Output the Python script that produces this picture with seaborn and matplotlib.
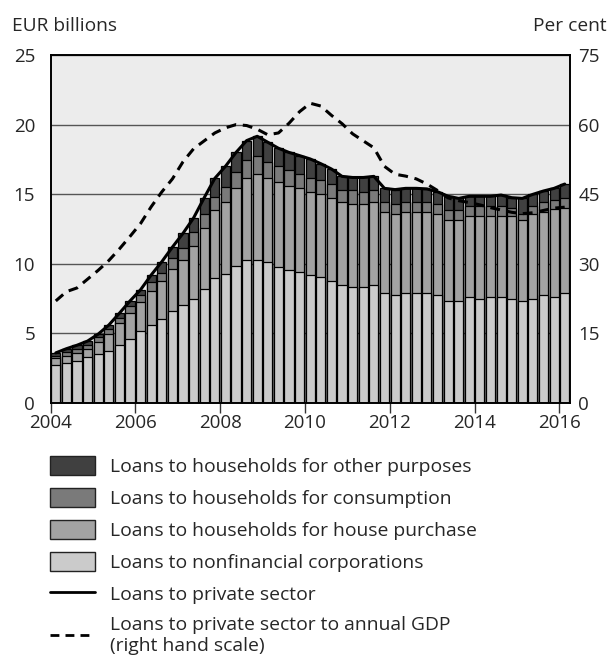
import numpy as np
import pandas as pd
import matplotlib
matplotlib.use("Agg")
import matplotlib.pyplot as plt
import seaborn as sns
from matplotlib.patches import Patch
from matplotlib.lines import Line2D

# ---------------- data (EUR billions, quarterly 2004Q1-2016Q1) ----------------
quarters = [f"{y}Q{q}" for y in range(2004, 2017) for q in range(1, 5)][:49]

corporations = [2.75, 2.9, 3.0, 3.3, 3.5, 3.7, 4.15, 4.6, 5.15, 5.6, 6.03, 6.61, 7.04,
                7.45, 8.17, 9.0, 9.29, 9.87, 10.3, 10.3, 10.15, 9.75, 9.58, 9.43, 9.17,
                9.03, 8.74, 8.45, 8.31, 8.31, 8.45, 7.88, 7.74, 7.9, 7.9, 7.9, 7.74, 7.3,
                7.3, 7.59, 7.45, 7.59, 7.59, 7.45, 7.3, 7.45, 7.74, 7.59, 7.88]
house_purchase = [0.45, 0.5, 0.6, 0.6, 0.9, 1.25, 1.6, 1.84, 2.13, 2.42, 2.71, 2.99, 3.26,
                  3.85, 4.38, 4.87, 5.15, 5.55, 5.84, 6.15, 5.99, 6.1, 5.98, 5.99, 5.96,
                  5.96, 5.96, 5.97, 5.96, 5.96, 5.97, 5.82, 5.81, 5.8, 5.8, 5.8, 5.81, 5.87,
                  5.87, 5.82, 5.96, 5.82, 5.82, 5.96, 5.82, 6.1, 5.96, 6.35, 6.1]
consumption = [0.2, 0.25, 0.3, 0.3, 0.35, 0.4, 0.35, 0.5, 0.48, 0.65, 0.6, 0.79, 0.8,
               0.96, 1.0, 0.95, 1.1, 1.15, 1.29, 1.27, 1.15, 1.15, 1.15, 1.01, 1.01, 1.01,
               1.01, 0.86, 1.01, 0.86, 0.86, 0.72, 0.72, 0.72, 0.72, 0.72, 0.72, 0.72,
               0.72, 0.72, 0.72, 0.72, 0.72, 0.57, 0.43, 0.58, 0.72, 0.62, 0.72]
other_purposes = [0.2, 0.25, 0.25, 0.25, 0.2, 0.25, 0.35, 0.39, 0.38, 0.53, 0.81, 0.81,
                  1.09, 1.04, 1.2, 1.32, 1.46, 1.43, 1.42, 1.44, 1.44, 1.3, 1.29, 1.34,
                  1.39, 1.19, 1.1, 1.0, 0.92, 1.07, 1.0, 1.0, 1.06, 1.0, 1.0, 0.96, 0.91,
                  0.96, 0.81, 0.72, 0.72, 0.72, 0.81, 0.77, 1.15, 0.86, 0.81, 0.86, 1.03]
# Loans to private sector to annual GDP, per cent (right hand scale)
gdp_ratio = [22.0, 24.0, 24.8, 26.7, 28.6, 30.7, 33.2, 35.9, 38.7, 42.3, 45.5, 48.3, 52.0,
             54.8, 56.5, 58.2, 59.3, 60.0, 59.8, 59.0, 57.8, 58.2, 60.3, 62.8, 64.6, 64.0,
             62.0, 60.2, 58.0, 56.5, 55.0, 51.0, 49.3, 48.9, 48.3, 47.2, 45.8, 44.2, 43.6,
             43.2, 42.7, 42.1, 41.6, 41.1, 40.8, 41.0, 41.5, 42.0, 42.2]

labels = ["Loans to households for other purposes",
          "Loans to households for consumption",
          "Loans to households for house purchase",
          "Loans to nonfinancial corporations",
          "Loans to private sector",
          "Loans to private sector to annual GDP\n(right hand scale)"]
colors = ["#404040", "#7a7a7a", "#a3a3a3", "#cbcbcb"]
x_ticks = [2004, 2006, 2008, 2010, 2012, 2014, 2016]
left_ticks = [0, 5, 10, 15, 20, 25]
right_ticks = [0, 15, 30, 45, 60, 75]

# ---------------- derived ----------------
xpos = np.array([int(q[:4]) + (int(q[-1]) - 1) * 0.25 + 0.125 for q in quarters])
stack = np.vstack([corporations, house_purchase, consumption, other_purposes])
cum = np.cumsum(stack, axis=0)
total = cum[-1]

sns.set_theme(style="white")
plt.rcParams["font.family"] = ["Open Sans", "DejaVu Sans"]

DASH = (0, (3.2, 2.2))

fig = plt.figure(figsize=(6.09, 6.55), dpi=100)
ax = fig.add_axes([50.5 / 609, 1 - 403 / 655, (570 - 50.5) / 609, (403 - 55) / 655])
ax.set_facecolor("#ececec")

# stacked bars: draw cumulative tops, tallest first
for level, col in zip([3, 2, 1, 0], colors):
    df = pd.DataFrame({"x": xpos, "y": cum[level]})
    sns.barplot(data=df, x="x", y="y", native_scale=True, width=0.86, color=col,
                saturation=1, edgecolor="black", linewidth=0.9, errorbar=None, ax=ax,
                zorder=2)

sns.lineplot(x=xpos, y=total, color="black", linewidth=2.2, ax=ax, zorder=5)

ax2 = ax.twinx()
sns.lineplot(x=xpos, y=gdp_ratio, color="black", linewidth=2.2, ax=ax2)
ax2.lines[0].set_linestyle(DASH)

ax.set_xlim(2004, 2016.25)
ax.set_ylim(0, 25)
ax2.set_ylim(0, 75)
ax.set_xticks(x_ticks)
ax.set_xticklabels([str(t) for t in x_ticks])
ax.set_yticks(left_ticks)
ax2.set_yticks(right_ticks)
ax.set_xlabel("")
ax.set_ylabel("")
ax2.set_ylabel("")

ax.set_axisbelow(True)
ax.yaxis.grid(True, color="#555555", linewidth=1.0)
ax.xaxis.grid(False)
ax2.grid(False)

ax.tick_params(axis="x", length=7, width=1, direction="out", color="#333333",
               labelsize=13.5, pad=1, bottom=True)
ax.tick_params(axis="y", length=0, labelsize=13.5, pad=11)
ax2.tick_params(axis="y", length=0, labelsize=13.5, pad=6)

for a in (ax, ax2):
    for s in a.spines.values():
        s.set_visible(True)
        s.set_color("black")
        s.set_linewidth(1.2)

fig.text(12 / 609, 1 - 26 / 655, "EUR billions", fontsize=13.8, va="center", ha="left")
fig.text(607 / 609, 1 - 26 / 655, "Per cent", fontsize=13.8, va="center", ha="right")

handles = [Patch(facecolor=c, edgecolor="#222222", linewidth=1) for c in colors]
handles.append(Line2D([], [], color="black", linewidth=2))
handles.append(Line2D([], [], color="black", linewidth=2, linestyle=DASH))
fig.legend(handles, labels, loc="upper left", bbox_to_anchor=(50 / 609, 1 - 456 / 655),
           frameon=False, fontsize=13.9, handlelength=2.32, handleheight=1.15,
           handletextpad=0.78, labelspacing=0.62, borderpad=0, borderaxespad=0)

fig.savefig("out.png", dpi=100)
